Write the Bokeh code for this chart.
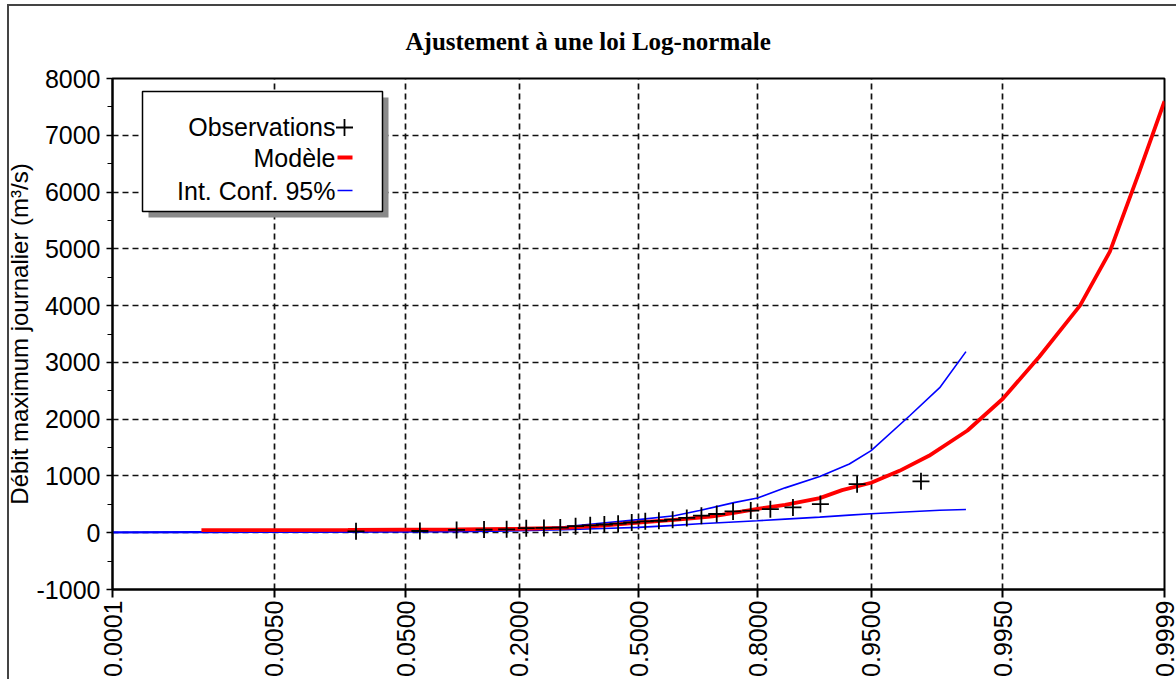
import math
from statistics import NormalDist
from bokeh.plotting import figure
from bokeh.models import Range1d, FixedTicker, SingleIntervalTicker, Label
from bokeh.embed import file_html
from bokeh.resources import INLINE

# ---------------- data ----------------
tick_probs = [0.0001, 0.005, 0.05, 0.2, 0.5, 0.8, 0.95, 0.995, 0.9999]
tick_labels = ["0.0001", "0.0050", "0.0500", "0.2000", "0.5000",
               "0.8000", "0.9500", "0.9950", "0.9999"]

obs_prob = [0.0229, 0.0611, 0.0992, 0.1374, 0.1756, 0.2137, 0.2519, 0.2901,
            0.3282, 0.3664, 0.4046, 0.4427, 0.4809, 0.5191, 0.5573, 0.5954,
            0.6336, 0.6718, 0.7099, 0.7481, 0.7863, 0.8244, 0.8626, 0.9008,
            0.9389, 0.9771]
obs_q = [25, 30, 50, 55, 60, 80, 85, 90, 115, 130, 145, 160, 180, 200, 210,
         230, 260, 300, 330, 375, 390, 415, 445, 505, 855, 905]

model_prob = [0.001, 0.005, 0.02, 0.05, 0.1, 0.2, 0.3, 0.4, 0.5, 0.6, 0.667,
              0.7, 0.75, 0.8, 0.85, 0.9, 0.925, 0.95, 0.9675, 0.98, 0.99,
              0.995, 0.9977, 0.9991, 0.99957, 0.9998, 0.9999]
model_q = [45, 47, 50, 55, 60, 70, 85, 125, 180, 225, 265, 290, 350, 420, 490,
           610, 750, 880, 1090, 1355, 1800, 2360, 3100, 4000, 4950, 6350, 7600]

ci_prob = [0.0001, 0.001, 0.01, 0.05, 0.1, 0.2, 0.3, 0.4, 0.5, 0.6, 0.667,
           0.75, 0.8, 0.85, 0.9, 0.932, 0.95, 0.9724, 0.9834, 0.9897]
ci_low = [0, 5, 10, 15, 20, 35, 55, 75, 95, 130, 158, 190, 211, 240, 275, 310,
          334, 370, 395, 410]
ci_up = [10, 15, 20, 30, 40, 60, 105, 170, 230, 300, 390, 530, 610, 790, 990,
         1210, 1445, 2060, 2555, 3190]

title_text = "Ajustement à une loi Log-normale"
ylabel_text = "Débit maximum journalier (m³/s)"
legend_labels = ["Observations", "Modèle", "Int. Conf. 95%"]

# ---------------- probability (normal) scale ----------------
nd = NormalDist()


def zs(ps):
    return [nd.inv_cdf(v) for v in ps]


tick_z = zs(tick_probs)
x0, x1 = tick_z[0], tick_z[-1]
Y0, Y1 = -1000, 8000

FONT = "Liberation Sans"

p = figure(width=1176, height=679, x_range=Range1d(x0, x1),
           y_range=Range1d(Y0, Y1), output_backend="svg",
           toolbar_location=None,
           min_border_left=112, min_border_right=12,
           min_border_top=78, min_border_bottom=90)
p.border_fill_color = None
p.styles = {"background": "linear-gradient(#444,#444) 7px 4px / 2px 100% no-repeat, "
                          "linear-gradient(#444,#444) 7px 4px / 100% 2px no-repeat, #ffffff"}

p.title.text = title_text
p.title.align = "left"
p.title.offset = 293
p.title.text_font = "Liberation Serif"
p.title.text_font_style = "bold"
p.title.text_font_size = "25px"
p.title.text_color = "black"
p.title.standoff = 47

p.outline_line_color = "black"
p.outline_line_width = 2
p.background_fill_color = "white"

# x axis
xa = p.xaxis[0]
xa.ticker = FixedTicker(ticks=tick_z)
xa.major_label_overrides = {t: l for t, l in zip(tick_z, tick_labels)}
xa.major_label_orientation = math.pi / 2
xa.major_label_text_font = FONT
xa.major_label_text_font_size = "25px"
xa.major_label_text_color = "black"
xa.major_label_standoff = 3
xa.major_tick_out = 8
xa.major_tick_in = 0
xa.minor_tick_out = 0
xa.minor_tick_in = 0
xa.axis_line_width = 2
xa.major_tick_line_width = 2

# y axis
ya = p.yaxis[0]
ya.ticker = SingleIntervalTicker(interval=1000, num_minor_ticks=2)
ya.major_label_overrides = {-1000: "-1000"}
ya.major_label_text_font = FONT
ya.major_label_text_font_size = "25px"
ya.major_label_text_color = "black"
ya.major_label_standoff = 6
ya.major_tick_out = 6
ya.major_tick_in = 0
ya.minor_tick_out = 5
ya.minor_tick_in = 0
ya.axis_line_width = 2
ya.major_tick_line_width = 1.5
ya.axis_label = ylabel_text
ya.axis_label_text_font = FONT
ya.axis_label_text_font_size = "24px"
ya.axis_label_text_font_style = "normal"
ya.axis_label_text_color = "black"
ya.axis_label_standoff = 1

for g in (p.xgrid[0], p.ygrid[0]):
    g.grid_line_color = "#111111"
    g.grid_line_dash = "6 4"
    g.grid_line_width = 1.7
p.xgrid[0].ticker = FixedTicker(ticks=tick_z)

# ---------------- series ----------------
p.line(zs(ci_prob), ci_low, line_color="#0000ff", line_width=1.6)
p.line(zs(ci_prob), ci_up, line_color="#0000ff", line_width=1.6)
p.line(zs(model_prob), model_q, line_color="#ff0000", line_width=3.8)
p.scatter(zs(obs_prob), obs_q, marker="cross", size=17, line_color="black",
          line_width=1.8)

# ---------------- legend (drawn manually: glyph after the text) ----------------
FL, FR, FT, FB = 112, 1164, 78, 589  # frame edges on the page, px


def X(px):
    return x0 + (px - FL) * (x1 - x0) / (FR - FL)


def Y(py):
    return Y1 - (py - FT) * (Y1 - Y0) / (FB - FT)


p.quad(left=[X(148)], right=[X(388)], top=[Y(97)], bottom=[Y(217)],
       fill_color="#8a8a8a", line_color=None)
p.quad(left=[X(142)], right=[X(382)], top=[Y(91)], bottom=[Y(211)],
       fill_color="white", line_color="black", line_width=1.5)

for txt, py in zip(legend_labels, [126, 157, 190]):
    p.add_layout(Label(x=X(335), y=Y(py), text=txt, text_align="right",
                       text_baseline="middle", text_font=FONT,
                       text_font_size="25px", text_color="black"))

p.scatter([X(344)], [Y(127)], marker="cross", size=17, line_color="black",
          line_width=1.8)
p.segment(x0=[X(337)], x1=[X(352)], y0=[Y(157)], y1=[Y(157)],
          line_color="#ff0000", line_width=4)
p.segment(x0=[X(337)], x1=[X(352)], y0=[Y(190)], y1=[Y(190)],
          line_color="#0000ff", line_width=1.6)

open("out.html", "w").write(file_html(p, INLINE, title="Ajustement"))
